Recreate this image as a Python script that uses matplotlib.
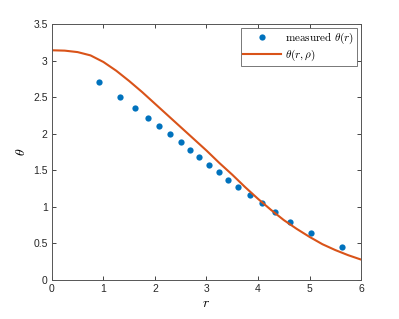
import numpy as np
import matplotlib
matplotlib.use("Agg")
import matplotlib.pyplot as plt

# measured points
r_meas = [0.92, 1.32, 1.62, 1.86, 2.08, 2.30, 2.50, 2.68, 2.86, 3.05, 3.24,
          3.42, 3.61, 3.84, 4.07, 4.32, 4.63, 5.03, 5.62]
theta_meas = [2.70, 2.50, 2.35, 2.22, 2.10, 1.99, 1.88, 1.78, 1.68, 1.57, 1.47,
              1.37, 1.27, 1.16, 1.05, 0.93, 0.80, 0.65, 0.45]

# fitted curve theta(r, rho)
r_fit = [0, 0.25, 0.5, 0.75, 1.0, 1.25, 1.5, 1.75, 2.0, 2.25, 2.5, 2.75, 3.0,
         3.25, 3.5, 3.75, 4.0, 4.25, 4.5, 4.75, 5.0, 5.25, 5.5, 5.75, 6.0]
theta_fit = [3.14, 3.135, 3.115, 3.07, 2.98, 2.86, 2.72, 2.57, 2.41, 2.25, 2.09,
             1.93, 1.77, 1.60, 1.44, 1.27, 1.11, 0.96, 0.82, 0.70, 0.59, 0.49,
             0.41, 0.34, 0.28]

plt.rcParams['mathtext.fontset'] = 'cm'
plt.rcParams['font.family'] = ['Liberation Sans', 'DejaVu Sans']

fig = plt.figure(figsize=(3.99, 3.19), dpi=100)
ax = fig.add_axes([0.130, 0.122, 0.775, 0.803])

ax.plot(r_meas, theta_meas, 'o', color='#0072BD', markersize=4.5,
        markeredgewidth=0, label=r'measured $\theta(r)$')
ax.plot(r_fit, theta_fit, '-', color='#D95319', linewidth=1.5,
        label=r'$\theta(r,\rho)$')

ax.set_xlim(0, 6)
ax.set_ylim(0, 3.5)
ax.set_xticks(range(7))
ax.set_yticks(np.arange(0, 3.51, 0.5))
ax.set_yticklabels(['0', '0.5', '1', '1.5', '2', '2.5', '3', '3.5'])
ax.tick_params(direction='in', length=3, width=0.6, labelsize=7.5,
               top=True, right=True, colors='#262626', pad=3)
for s in ax.spines.values():
    s.set_color('#555555')
    s.set_linewidth(0.7)

ax.set_xlabel(r'$r$', fontsize=10, labelpad=1)
ax.set_ylabel(r'$\theta$', fontsize=10, labelpad=4)

leg = ax.legend(loc='upper right', frameon=True, fancybox=False,
                borderaxespad=0.4, handlelength=3.4, borderpad=0.2,
                labelspacing=0.2, handletextpad=0.4,
                prop={'family': 'cmr10', 'size': 8})
leg.get_frame().set_edgecolor('#555555')
leg.get_frame().set_linewidth(0.7)

fig.savefig('out.png', dpi=100)
